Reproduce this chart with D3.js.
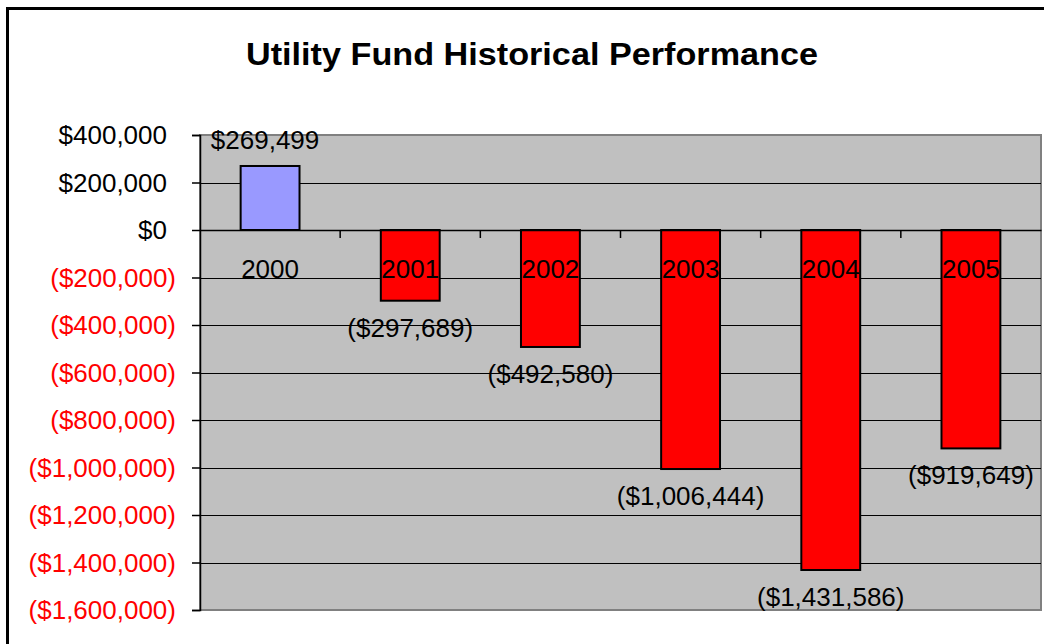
<!DOCTYPE html>
<html>
<head>
<meta charset="utf-8">
<script src="https://cdn.jsdelivr.net/npm/d3@7"></script>
<style>
  html, body { margin: 0; padding: 0; background: #fff; }
  svg { display: block; font-family: "Liberation Sans", Arial, sans-serif; }
</style>
</head>
<body>
<svg id="chart" width="1044" height="644"></svg>
<script>
const titleText = "Utility Fund Historical Performance";
const categories = ["2000", "2001", "2002", "2003", "2004", "2005"];
const values = [269499, -297689, -492580, -1006444, -1431586, -919649];
const yTickValues = [400000, 200000, 0, -200000, -400000, -600000, -800000, -1000000, -1200000, -1400000, -1600000];
const yDomain = [-1600000, 400000];

const svg = d3.select("#chart");
const plot = { left: 200, top: 135, right: 1041, bottom: 610 };
const FS = 26;

// outer chart frame
svg.append("rect")
  .attr("x", 7.5).attr("y", 8.5)
  .attr("width", 1100).attr("height", 700)
  .attr("fill", "#fff").attr("stroke", "#000").attr("stroke-width", 3);

// title
svg.append("text")
  .attr("x", 532).attr("y", 65)
  .attr("text-anchor", "middle")
  .attr("font-size", 32).attr("font-weight", "bold")
  .attr("textLength", 572).attr("lengthAdjust", "spacingAndGlyphs")
  .attr("fill", "#000")
  .text(titleText);

const x = d3.scaleBand().domain(categories).range([plot.left, plot.right]).padding(0);
const y = d3.scaleLinear().domain(yDomain).range([plot.bottom, plot.top]);

// plot area
svg.append("rect")
  .attr("x", plot.left).attr("y", plot.top)
  .attr("width", plot.right - plot.left).attr("height", plot.bottom - plot.top)
  .attr("fill", "#C0C0C0").attr("stroke", "#808080").attr("stroke-width", 2);

// gridlines
svg.append("g").selectAll("line")
  .data(yTickValues.filter(v => v !== yDomain[1] && v !== yDomain[0]))
  .join("line")
  .attr("x1", plot.left).attr("x2", plot.right)
  .attr("y1", d => Math.round(y(d)) + 0.5).attr("y2", d => Math.round(y(d)) + 0.5)
  .attr("stroke", "#000").attr("stroke-width", 1);

// y axis
const fmt = d3.format(",.0f");
const yLabel = v => v < 0 ? "($" + fmt(-v) + ")" : "$" + fmt(v);
const yAxis = d3.axisLeft(y).tickValues(yTickValues).tickSize(8).tickPadding(25).tickFormat(yLabel);
const gy = svg.append("g").attr("transform", `translate(${plot.left},0)`).call(yAxis);
gy.select(".domain").attr("stroke", "#000").attr("stroke-width", 1.5);
gy.selectAll(".tick line").attr("stroke", "#000").attr("stroke-width", 1.5);
gy.selectAll(".tick text")
  .attr("font-size", FS).attr("font-family", "'Liberation Sans', Arial, sans-serif")
  .attr("fill", d => d < 0 ? "#FF0000" : "#000")
  .attr("dx", d => d < 0 ? 9 : 0)
  .attr("dy", "0.34em");

// bars
const barW = x.bandwidth() * 0.42;
svg.append("g").selectAll("rect")
  .data(categories.map((c, i) => ({ c, v: values[i] })))
  .join("rect")
  .attr("x", d => x(d.c) + (x.bandwidth() - barW) / 2)
  .attr("y", d => y(Math.max(0, d.v)))
  .attr("width", barW)
  .attr("height", d => Math.abs(y(d.v) - y(0)))
  .attr("fill", d => d.v >= 0 ? "#9999FF" : "#FF0000")
  .attr("stroke", "#000").attr("stroke-width", 2);

// x axis line at zero and category ticks
const gx = svg.append("g").attr("transform", `translate(0,${y(0)})`)
  .call(d3.axisBottom(x).tickSize(0).tickFormat(""));
gx.select(".domain").attr("stroke", "#000").attr("stroke-width", 1.5);
svg.append("g").selectAll("line")
  .data(categories.slice(1))
  .join("line")
  .attr("x1", d => x(d)).attr("x2", d => x(d))
  .attr("y1", y(0)).attr("y2", y(0) + 8)
  .attr("stroke", "#000").attr("stroke-width", 1.5);

// category labels
svg.append("g").selectAll("text")
  .data(categories)
  .join("text")
  .attr("x", d => x(d) + x.bandwidth() / 2)
  .attr("y", y(0) + 48)
  .attr("text-anchor", "middle")
  .attr("font-size", FS).attr("fill", "#000")
  .text(d => d);

// data labels
svg.append("g").selectAll("text")
  .data(categories.map((c, i) => ({ c, v: values[i] })))
  .join("text")
  .attr("x", d => x(d.c) + x.bandwidth() / 2 + (d.v >= 0 ? -5 : 0))
  .attr("y", d => d.v >= 0 ? y(d.v) - 17 : y(d.v) + 36)
  .attr("text-anchor", "middle")
  .attr("font-size", FS).attr("fill", "#000")
  .text(d => yLabel(d.v));
</script>
</body>
</html>
